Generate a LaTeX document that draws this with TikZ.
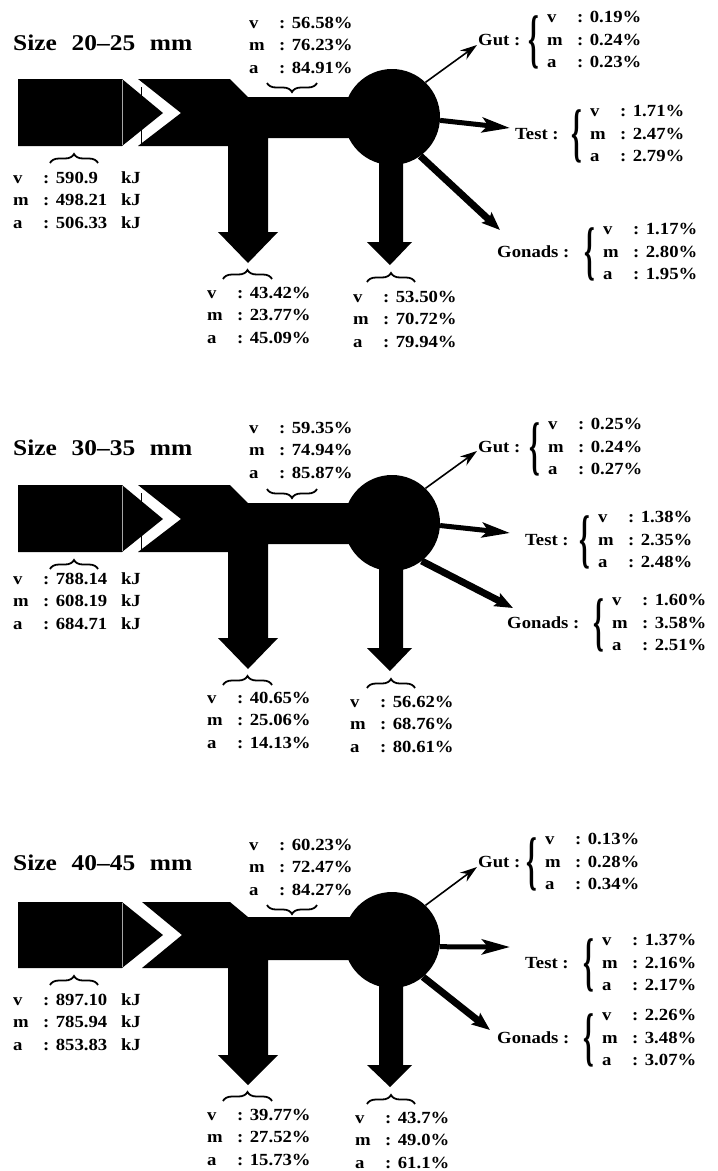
\documentclass[tikz,border=0pt]{standalone}
\usepackage{fontspec}
\setmainfont{Liberation Serif}
\usepackage{graphicx}
\usetikzlibrary{arrows.meta,decorations.pathreplacing}
\newcommand\lbl[1]{\scalebox{1.1}[1]{\fontsize{17}{22.5}\selectfont\bfseries #1}}
\newcommand\ttl[1]{\scalebox{1.13}[1]{\fontsize{22.5}{26}\selectfont\bfseries #1}}
\newcommand\csep{@{\hspace{13pt}:\hspace{6pt}}}
\newcommand\three[3]{\begin{tabular}[t]{@{}l\csep l@{}}v&#1\\m&#2\\a&#3\end{tabular}}
\newcommand\threekj[3]{\begin{tabular}[t]{@{}l\csep l@{\hspace{12.5pt}}l@{}}v&#1&kJ\\m&#2&kJ\\a&#3&kJ\end{tabular}}
\newcommand\bigbr{\scalebox{1.6}[3.8]{\fontsize{17}{20}\selectfont\bfseries\{}}
% side label: id, name, x of name, x of values, baseline of name, v, m, a
\newcommand\sidel[8]{%
  \node[lab] (#1n) at (#3,#5) {\lbl{#2\ :}};
  \node[inner sep=0pt, anchor=east] (#1b) at ({#4-8},{#5-3}) {\bigbr};
  \node[lab] (#1t) at (#4,{#5-22.5}) {\lbl{\three{#6}{#7}{#8}}};
}
\tikzset{
  lab/.style={inner sep=0pt, anchor=base west},
  hbrace/.style={decorate, decoration={brace, amplitude=9pt}, line width=1.8pt},
  gutarr/.style={line width=1.6pt, -{Stealth[length=17pt,width=11pt]}},
  testarr/.style={line width=5pt, -{Stealth[length=28pt,width=15pt,inset=6pt]}},
  gonarr/.style={line width=7pt, -{Stealth[length=18pt,width=14pt,inset=3pt]}},
  hub/.style={circle, fill=black, minimum size=96pt, inner sep=0pt},
  seam/.style={gray!70, line width=0.6pt},
  thinblk/.style={black, line width=0.6pt}
}
\begin{document}
\begin{tikzpicture}[x=1pt,y=-1pt]
\useasboundingbox (0,0) rectangle (718,1171);
% ================= panel 1 =================
\begin{scope}
\node[lab] (t1) at (13,50) {\ttl{Size\hspace{13pt}20–25\hspace{13pt}mm}};
\fill (18,79) -- (122,79) -- (163,113) -- (122,146) -- (18,146) -- cycle;
\draw[seam] (122,80) -- (122,145);
\fill (138,79) -- (230,79) -- (248,97) -- (392,97) -- (392,138) -- (268,138) -- (268,232) -- (278,232) -- (248,263) -- (218,232) -- (228,232) -- (228,146) -- (138,146) -- (181,113) -- cycle;
\draw[thinblk] (141,87) -- (141,145);
\node[hub] (c1) at (392,117) {};
\fill (379,117) -- (403,117) -- (403,242) -- (412,242) -- (390,265) -- (367,242) -- (379,242) -- cycle;
\coordinate (g1) at (477,45);
\coordinate (s1) at (510,128);
\coordinate (o1) at (500,230);
\draw[gutarr] (c1.46) -- (g1);
\draw[testarr] (c1.-4) -- (s1);
\draw[gonarr] (c1.-54) -- (o1);
\node[lab] (u1) at (249,28) {\lbl{\three{56.58\%}{76.23\%}{84.91\%}}};
\draw[hbrace] (317,83) -- (267,83);
\node[lab] (i1) at (13,183) {\lbl{\threekj{590.9}{498.21}{506.33}}};
\draw[hbrace] (50,163) -- (98,163);
\node[lab] (d1) at (207,298) {\lbl{\three{43.42\%}{23.77\%}{45.09\%}}};
\draw[hbrace] (223,279) -- (272,279);
\node[lab] (e1) at (353,302) {\lbl{\three{53.50\%}{70.72\%}{79.94\%}}};
\draw[hbrace] (367,282) -- (415,282);
\sidel{gut1}{Gut}{478}{547}{45}{0.19\%}{0.24\%}{0.23\%}
\sidel{test1}{Test}{515}{590}{139}{1.71\%}{2.47\%}{2.79\%}
\sidel{gon1}{Gonads}{497}{603}{257}{1.17\%}{2.80\%}{1.95\%}
\end{scope}
% ================= panel 2 =================
\begin{scope}[shift={(0,406)}]
\node[lab] (t2) at (13,49) {\ttl{Size\hspace{13pt}30–35\hspace{13pt}mm}};
\fill (18,79) -- (122,79) -- (163,113) -- (122,146) -- (18,146) -- cycle;
\draw[seam] (122,80) -- (122,145);
\fill (138,79) -- (230,79) -- (248,97) -- (392,97) -- (392,138) -- (268,138) -- (268,232) -- (278,232) -- (248,263) -- (218,232) -- (228,232) -- (228,146) -- (138,146) -- (181,113) -- cycle;
\draw[thinblk] (141,87) -- (141,145);
\node[hub] (c2) at (392,117) {};
\fill (379,117) -- (403,117) -- (403,242) -- (412,242) -- (390,265) -- (367,242) -- (379,242) -- cycle;
\coordinate (g2) at (477,45);
\coordinate (s2) at (510,127);
\coordinate (o2) at (513,202);
\draw[gutarr] (c2.46) -- (g2);
\draw[testarr] (c2.-3) -- (s2);
\draw[gonarr] (c2.-52) -- (o2);
\node[lab] (u2) at (249,27) {\lbl{\three{59.35\%}{74.94\%}{85.87\%}}};
\draw[hbrace] (317,83) -- (267,83);
\node[lab] (i2) at (13,178) {\lbl{\threekj{788.14}{608.19}{684.71}}};
\draw[hbrace] (50,163) -- (98,163);
\node[lab] (d2) at (207,297) {\lbl{\three{40.65\%}{25.06\%}{14.13\%}}};
\draw[hbrace] (223,279) -- (272,279);
\node[lab] (e2) at (350,301) {\lbl{\three{56.62\%}{68.76\%}{80.61\%}}};
\draw[hbrace] (367,282) -- (415,282);
\sidel{gut2}{Gut}{478}{548}{46}{0.25\%}{0.24\%}{0.27\%}
\sidel{test2}{Test}{525}{598}{139}{1.38\%}{2.35\%}{2.48\%}
\sidel{gon2}{Gonads}{507}{612}{222}{1.60\%}{3.58\%}{2.51\%}
\end{scope}
% ================= panel 3 =================
\begin{scope}[shift={(0,822)}]
\node[lab] (t3) at (13,48) {\ttl{Size\hspace{13pt}40–45\hspace{13pt}mm}};
\fill (18,80) -- (122,80) -- (163,113) -- (122,146) -- (18,146) -- cycle;
\draw[seam] (122,81) -- (122,145);
\fill (142,80) -- (230,80) -- (248,95) -- (392,95) -- (392,138) -- (268,138) -- (268,233) -- (278,233) -- (248,263) -- (218,233) -- (228,233) -- (228,146) -- (142,146) -- (182,113) -- cycle;
\node[hub] (c3) at (392,118) {};
\fill (379,118) -- (403,118) -- (403,243) -- (412,243) -- (390,265) -- (367,243) -- (379,243) -- cycle;
\coordinate (g3) at (477,45);
\coordinate (s3) at (510,125);
\coordinate (o3) at (490,208);
\draw[gutarr] (c3.46) -- (g3);
\draw[testarr] (c3.-8) -- (s3);
\draw[gonarr] (c3.-50) -- (o3);
\node[lab] (u3) at (249,28) {\lbl{\three{60.23\%}{72.47\%}{84.27\%}}};
\draw[hbrace] (317,83) -- (267,83);
\node[lab] (i3) at (13,183) {\lbl{\threekj{897.10}{785.94}{853.83}}};
\draw[hbrace] (50,163) -- (98,163);
\node[lab] (d3) at (207,298) {\lbl{\three{39.77\%}{27.52\%}{15.73\%}}};
\draw[hbrace] (223,279) -- (272,279);
\node[lab] (e3) at (355,301) {\lbl{\three{43.7\%}{49.0\%}{61.1\%}}};
\draw[hbrace] (367,282) -- (415,282);
\sidel{gut3}{Gut}{478}{545}{45}{0.13\%}{0.28\%}{0.34\%}
\sidel{test3}{Test}{525}{602}{146}{1.37\%}{2.16\%}{2.17\%}
\sidel{gon3}{Gonads}{497}{602}{221}{2.26\%}{3.48\%}{3.07\%}
\end{scope}
\end{tikzpicture}
\end{document}
